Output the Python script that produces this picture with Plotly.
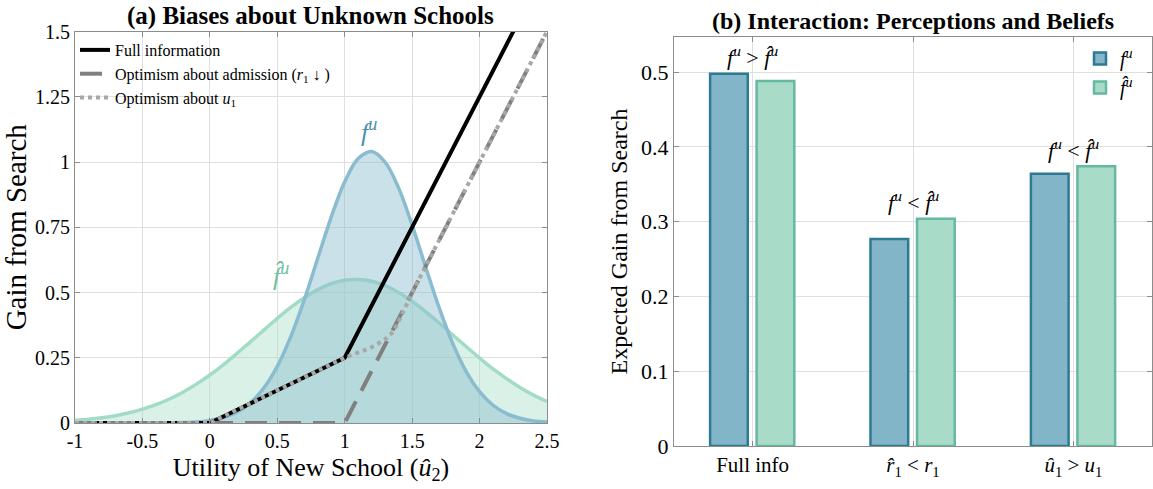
import plotly.graph_objects as go

# ---------------- Panel (a): gain from search vs. utility of new school ----------------
u_grid = [-1.0, -0.9, -0.8, -0.7, -0.6, -0.5, -0.4, -0.3, -0.2, -0.1,
          0.0, 0.1, 0.2, 0.3, 0.4, 0.5, 0.6, 0.7, 0.8, 0.9,
          1.0, 1.1, 1.2, 1.3, 1.4, 1.5, 1.6, 1.7, 1.8, 1.9,
          2.0, 2.1, 2.2, 2.3, 2.4, 2.5]

# true density of utility f^u
f_true = [0.0, 0.0, 0.0, 0.0, 0.0, 0.0, 0.0, 0.001, 0.002, 0.004,
          0.010, 0.021, 0.041, 0.077, 0.134, 0.217, 0.331, 0.472, 0.631, 0.789,
          0.924, 1.013, 1.040, 0.999, 0.900, 0.758, 0.598, 0.442, 0.306, 0.198,
          0.120, 0.068, 0.036, 0.018, 0.008, 0.004]

# perceived density \hat f^u
f_perc = [0.010, 0.014, 0.020, 0.028, 0.039, 0.053, 0.070, 0.092, 0.118, 0.149,
          0.184, 0.223, 0.266, 0.311, 0.356, 0.401, 0.443, 0.480, 0.511, 0.534,
          0.547, 0.550, 0.543, 0.526, 0.500, 0.466, 0.427, 0.383, 0.338, 0.293,
          0.249, 0.207, 0.170, 0.136, 0.107, 0.083]

# gain-from-search schedules
full_x = [-1.0, 0.0, 1.0, 2.5]
full_y = [0.0, 0.0, 0.25, 1.75]

adm_x = [-1.0, 1.0, 2.5]
adm_y = [0.0, 0.0, 1.5]

opt_x = [-1.0, 0.0, 1.0, 1.2, 1.3, 1.36, 1.42, 1.5, 2.5]
opt_y = [0.0, 0.0, 0.25, 0.29, 0.32, 0.35, 0.41, 0.5, 1.5]

x_ticks = [-1, -0.5, 0, 0.5, 1, 1.5, 2, 2.5]
x_ticktext = ["-1", "-0.5", "0", "0.5", "1", "1.5", "2", "2.5"]
y_ticks = [0, 0.25, 0.5, 0.75, 1, 1.25, 1.5]
y_ticktext = ["0", "0.25", "0.5", "0.75", "1", "1.25", "1.5"]

# ---------------- Panel (b): expected gain by scenario ----------------
scenarios = ["Full info",
             "<i>r\u0302</i><sub>1</sub> &lt; <i>r</i><sub>1</sub>",
             "<i>u\u0302</i><sub>1</sub> &gt; <i>u</i><sub>1</sub>"]
gain_true = [0.498, 0.277, 0.364]
gain_perc = [0.488, 0.304, 0.374]
comparisons = ["<i>f</i><sup><i>u</i></sup> &gt; <i>f\u0302</i><sup><i>u</i></sup>",
               "<i>f</i><sup><i>u</i></sup> &lt; <i>f\u0302</i><sup><i>u</i></sup>",
               "<i>f</i><sup><i>u</i></sup> &lt; <i>f\u0302</i><sup><i>u</i></sup>"]
bar_ticks = [0, 0.1, 0.2, 0.3, 0.4, 0.5]

FONT = "Liberation Serif"
BLUE_LINE = "rgb(137,188,206)"
BLUE_FILL = "rgba(137,188,206,0.45)"
GREEN_LINE = "rgb(163,220,198)"
GREEN_FILL = "rgba(163,220,198,0.40)"

fig = go.Figure()

# densities
fig.add_trace(go.Scatter(x=u_grid, y=f_perc, mode="lines", line=dict(color=GREEN_LINE, width=3.5, shape="spline"),
                         fill="tozeroy", fillcolor=GREEN_FILL, showlegend=False, hoverinfo="skip",
                         xaxis="x", yaxis="y"))
fig.add_trace(go.Scatter(x=u_grid, y=f_true, mode="lines", line=dict(color=BLUE_LINE, width=3.5, shape="spline"),
                         fill="tozeroy", fillcolor=BLUE_FILL, showlegend=False, hoverinfo="skip",
                         xaxis="x", yaxis="y"))

# schedules
fig.add_trace(go.Scatter(x=full_x, y=full_y, mode="lines", name="Full information",
                         line=dict(color="black", width=4), xaxis="x", yaxis="y", legend="legend"))
fig.add_trace(go.Scatter(x=adm_x, y=adm_y, mode="lines",
                         name="Optimism about admission (<i>r</i><sub>1</sub> \u2193 )",
                         line=dict(color="rgb(128,128,128)", width=4, dash="22px,12px"),
                         xaxis="x", yaxis="y", legend="legend"))
fig.add_trace(go.Scatter(x=opt_x, y=opt_y, mode="lines",
                         name="Optimism about <i>u</i><sub>1</sub>",
                         line=dict(color="rgb(168,168,168)", width=4, dash="dot"),
                         xaxis="x", yaxis="y", legend="legend"))

# bars
fig.add_trace(go.Bar(x=scenarios, y=gain_true, name="<i>f</i><sup><i>u</i></sup>",
                     marker=dict(color="rgb(130,181,200)", line=dict(color="rgb(46,122,147)", width=2.5)),
                     width=0.235, offset=-0.265, xaxis="x2", yaxis="y2", legend="legend2"))
fig.add_trace(go.Bar(x=scenarios, y=gain_perc, name="<i>f\u0302</i><sup><i>u</i></sup>",
                     marker=dict(color="rgb(168,220,200)", line=dict(color="rgb(102,184,160)", width=2.5)),
                     width=0.235, offset=0.025, xaxis="x2", yaxis="y2", legend="legend2"))

annotations = [
    dict(text="<b>(a) Biases about Unknown Schools</b>", x=0.2697, y=1 - 16 / 489, xref="paper", yref="paper",
         showarrow=False, font=dict(family=FONT, size=25, color="black"), xanchor="center", yanchor="middle"),
    dict(text="<b>(b) Interaction: Perceptions and Beliefs</b>", x=0.7918, y=1 - 21 / 489, xref="paper", yref="paper",
         showarrow=False, font=dict(family=FONT, size=24, color="black"), xanchor="center", yanchor="middle"),
    dict(text="<i>f</i><sup><i>u</i></sup>", x=1.18, y=1.12, xref="x", yref="y", showarrow=False,
         font=dict(family=FONT, size=26, color="rgb(75,145,172)")),
    dict(text="<i>f\u0302</i><sup><i>u</i></sup>", x=0.53, y=0.57, xref="x", yref="y", showarrow=False,
         font=dict(family=FONT, size=26, color="rgb(110,192,160)")),
]
for cat, a, b, txt in zip(scenarios, gain_true, gain_perc, comparisons):
    annotations.append(dict(text=txt, x=cat, y=max(a, b) + 0.002, xref="x2", yref="y2", showarrow=False,
                            yanchor="bottom", xanchor="center",
                            font=dict(family=FONT, size=22, color="black")))

axis_common = dict(showline=True, linecolor="rgb(140,140,140)", linewidth=1, mirror="ticks",
                   ticks="inside", ticklen=5, tickcolor="rgb(140,140,140)", showgrid=True,
                   gridcolor="rgb(223,223,223)", gridwidth=1, zeroline=False, automargin=False)

fig.update_layout(
    template="none",
    width=1153, height=489,
    margin=dict(l=0, r=0, t=0, b=0),
    paper_bgcolor="white", plot_bgcolor="white",
    font=dict(family=FONT, color="black"),
    xaxis=dict(domain=[75 / 1153, 547 / 1153], range=[-1, 2.5], tickvals=x_ticks, ticktext=x_ticktext,
               tickfont=dict(size=20), anchor="y",
               title=dict(text="Utility of New School (<i>u\u0302</i><sub>2</sub>)", font=dict(size=26), standoff=6),
               **axis_common),
    yaxis=dict(domain=[1 - 423 / 489, 1 - 31.5 / 489], range=[0, 1.5], tickvals=y_ticks, ticktext=y_ticktext,
               tickfont=dict(size=20), anchor="x",
               title=dict(text="Gain from Search", font=dict(size=29), standoff=4),
               **axis_common),
    xaxis2=dict(domain=[674 / 1153, 1152 / 1153], range=[-0.49, 2.49], tickfont=dict(size=21), anchor="y2",
                type="category", **axis_common),
    yaxis2=dict(domain=[1 - 446 / 489, 1 - 37 / 489], range=[0, 0.547], tickvals=bar_ticks,
                ticktext=["0", "0.1", "0.2", "0.3", "0.4", "0.5"], tickfont=dict(size=22), anchor="x2",
                title=dict(text="Expected Gain from Search", font=dict(size=24), standoff=6),
                **axis_common),
    legend=dict(x=75 / 1153, y=1 - 33 / 489, xanchor="left", yanchor="top", bgcolor="rgba(255,255,255,0)",
                font=dict(family=FONT, size=16), itemwidth=30, tracegroupgap=0),
    legend2=dict(x=1080 / 1153, y=1 - 39 / 489, xanchor="left", yanchor="top", bgcolor="rgba(255,255,255,0)",
                 font=dict(family=FONT, size=20), itemwidth=30),
    annotations=annotations,
    barmode="overlay",
)

fig.write_html("out.html")
